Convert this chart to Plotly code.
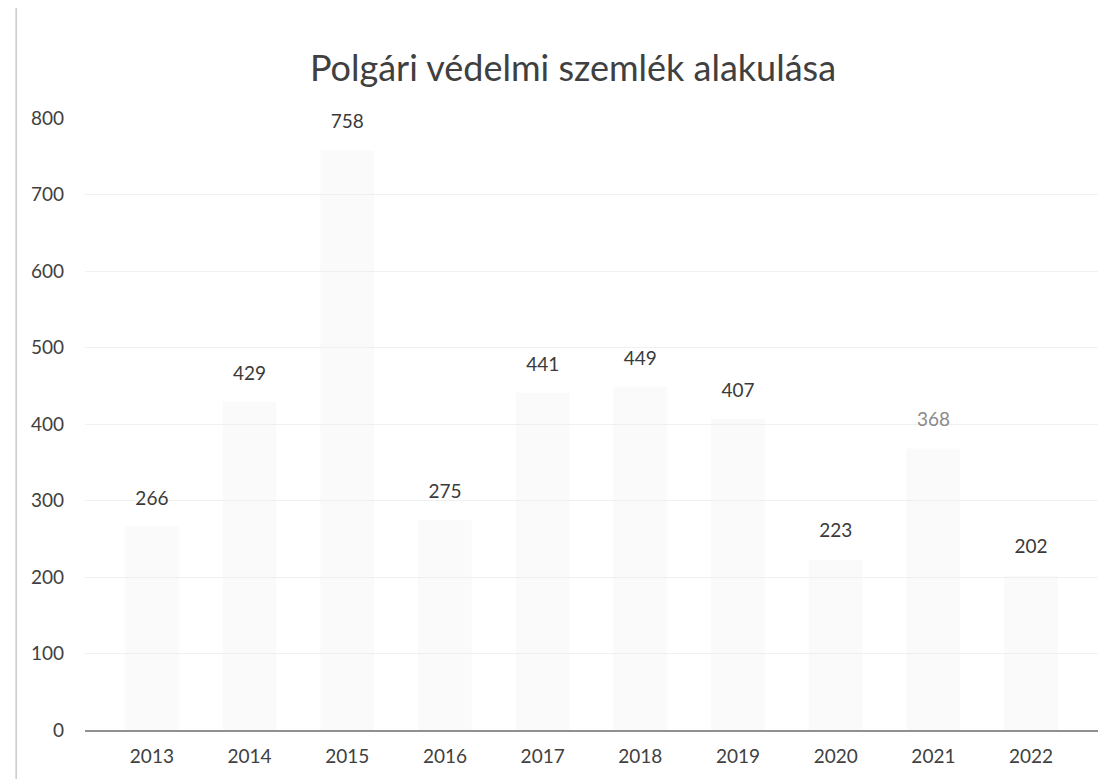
import plotly.graph_objects as go

years = ["2013", "2014", "2015", "2016", "2017", "2018", "2019", "2020", "2021", "2022"]
values = [266, 429, 758, 275, 441, 449, 407, 223, 368, 202]
label_colors = ["#3a3a3a"] * 8 + ["#8a8a8a", "#3a3a3a"]
y_ticks = [0, 100, 200, 300, 400, 500, 600, 700, 800]

FONT = "Lato, 'Open Sans', sans-serif"

fig = go.Figure()
fig.add_trace(go.Bar(
    x=years, y=values,
    marker=dict(color="rgba(240,240,240,0.3)", line=dict(width=0)),
    width=0.55,
    hoverinfo="skip",
))
fig.add_trace(go.Scatter(
    x=years, y=values,
    mode="markers+text",
    text=[str(v) for v in values],
    textposition="top center",
    textfont=dict(family=FONT, size=19, color=label_colors),
    marker=dict(size=26, opacity=0),
    hoverinfo="skip",
    cliponaxis=False,
))

fig.update_layout(
    width=1112, height=779,
    paper_bgcolor="white", plot_bgcolor="white",
    margin=dict(l=77, r=22, t=110, b=57),
    showlegend=False,
    title=dict(
        text="Polgári védelmi szemlék alakulása",
        x=565 / 1112, xref="container", xanchor="center",
        y=1 - 60 / 779, yref="container", yanchor="middle",
        font=dict(family=FONT, size=36, color="#404040"),
    ),
    font=dict(family=FONT, color="#404040"),
    shapes=[dict(
        type="rect", xref="paper", yref="paper",
        x0=-0.068, x1=1.03, y0=-0.088, y1=1.2,
        line=dict(color="#b0b0b0", width=1),
        fillcolor="rgba(0,0,0,0)", layer="below",
    )],
)
fig.update_xaxes(
    type="category",
    showgrid=False,
    showline=True, linecolor="#909090", linewidth=1.5,
    ticks="",
    ticklabelstandoff=8,
    tickfont=dict(family=FONT, size=19, color="#404040"),
)
fig.update_yaxes(
    range=[0, 800],
    tickvals=y_ticks,
    showgrid=True, gridcolor="#f0f0f0", gridwidth=1,
    zeroline=False,
    showline=False,
    ticks="",
    ticklabelstandoff=20,
    tickfont=dict(family=FONT, size=19, color="#404040"),
)

fig.write_html("out.html")
